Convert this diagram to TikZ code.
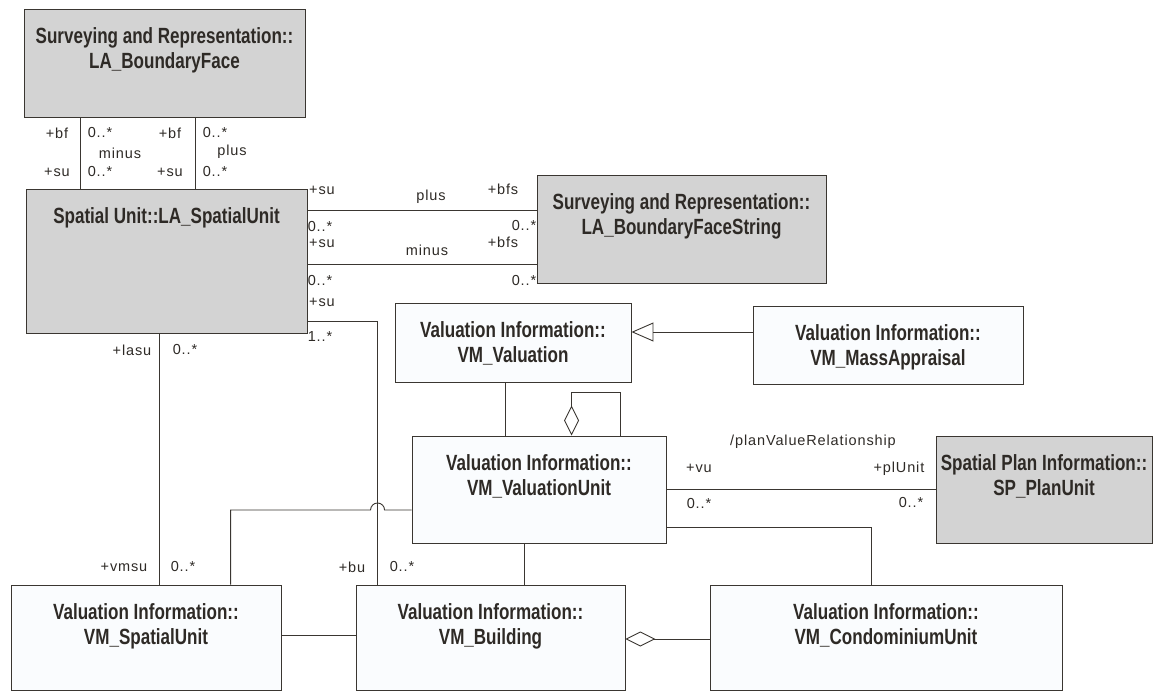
\documentclass[tikz,border=0pt]{standalone}
\usepackage{fontspec}
\setmainfont{Liberation Sans}
\newfontfamily\ttlfont[FakeStretch=0.775]{Liberation Sans}
\newfontfamily\lblfont[LetterSpace=6]{Liberation Sans}
\usetikzlibrary{arrows.meta}
\definecolor{linec}{HTML}{3A3631}
\definecolor{txtc}{HTML}{2E2A26}
\definecolor{grayc}{HTML}{D3D3D3}
\definecolor{boxc}{HTML}{FAFCFE}
\tikzset{
 cls/.style={draw=linec, fill=boxc, line width=0.9pt, inner sep=0pt},
 gcls/.style={cls, fill=grayc},
 ttl/.style={font=\ttlfont\bfseries\fontsize{22}{25}\selectfont, text=txtc, align=center, anchor=north, inner sep=0pt, yshift=-19pt},
 lbl/.style={font=\lblfont\fontsize{14.5}{17}\selectfont, text=txtc, inner sep=0pt},
 con/.style={draw=linec, line width=0.9pt},
 gen/.style={con, -{Triangle[open, length=22pt, width=19pt]}},
 agg/.style={con, -{Diamond[open, length=30pt, width=15pt]}},
}

\begin{document}
\begin{tikzpicture}[x=1pt,y=-1pt]
\useasboundingbox (0,0) rectangle (1157,693);
% classes
\node[gcls, minimum width=281pt, minimum height=108pt] (bf) at (164.5,63) {};
\node[ttl] (bft) at (bf.north) {Surveying and Representation::\\LA\_BoundaryFace};
\node[gcls, minimum width=281pt, minimum height=144pt] (su) at (166.5,261) {};
\node[ttl] (sut) at (su.north) {Spatial Unit::LA\_SpatialUnit};
\node[gcls, minimum width=289pt, minimum height=108pt] (bfs) at (681.5,229) {};
\node[ttl] (bfst) at (bfs.north) {Surveying and Representation::\\LA\_BoundaryFaceString};
\node[cls, minimum width=236pt, minimum height=79pt] (val) at (513,342.5) {};
\node[ttl] (valt) at (val.north) {Valuation Information::\\VM\_Valuation};
\node[cls, minimum width=270pt, minimum height=78pt] (mass) at (888,345) {};
\node[ttl] (masst) at (mass.north) {Valuation Information::\\VM\_MassAppraisal};
\node[cls, minimum width=254pt, minimum height=107pt] (vu) at (539,489.5) {};
\node[ttl] (vut) at (vu.north) {Valuation Information::\\VM\_ValuationUnit};
\node[gcls, minimum width=216pt, minimum height=107pt] (plan) at (1044,489.5) {};
\node[ttl] (plant) at (plan.north) {Spatial Plan Information::\\SP\_PlanUnit};
\node[cls, minimum width=270pt, minimum height=105pt] (vmsu) at (146,637.5) {};
\node[ttl] (vmsut) at (vmsu.north) {Valuation Information::\\VM\_SpatialUnit};
\node[cls, minimum width=269pt, minimum height=105pt] (bldg) at (490.5,637.5) {};
\node[ttl] (bldgt) at (bldg.north) {Valuation Information::\\VM\_Building};
\node[cls, minimum width=352pt, minimum height=105pt] (condo) at (886,637.5) {};
\node[ttl] (condot) at (condo.north) {Valuation Information::\\VM\_CondominiumUnit};

% associations
\foreach \s in {57,172}
  \draw[con] ([xshift=\s pt]bf.south west) -- ([xshift=\s pt]bf.south west |- su.north);
\foreach \s in {19,-35}
  \draw[con] ([yshift=\s pt]bfs.west) -- ([yshift=\s pt]bfs.west -| su.east);
\draw[con] ([yshift=-60pt]su.east) -| ([xshift=22pt]bldg.north west);
\draw[con] ([xshift=134pt]su.south west) -- ([xshift=134pt]su.south west |- vmsu.north);
\draw[con] ([yshift=-20.5pt]vu.west) -- ++(-27pt,0) arc[start angle=0, end angle=180, radius=7pt]
  -| ([xshift=220pt]vmsu.north west);
\draw[con] ([xshift=-15pt]vu.south) -- ([xshift=-15pt]vu.south |- bldg.north);
\draw[con] ([yshift=-37.5pt]vu.east) -| ([xshift=162pt]condo.north west);
\draw[con] ([xshift=-8pt]val.south) -- ([xshift=-8pt]val.south |- vu.north);
\draw[con] (vu.east |- plan.west) -- (plan.west);
\draw[con] ([yshift=2.5pt]vmsu.east) -- ([yshift=2.5pt]vmsu.east -| bldg.west);
\draw[agg] ([xshift=209pt]vu.north west) -- ++(0,43pt) -| ([xshift=160pt]vu.north west);
\draw[agg] ([yshift=-1.5pt]condo.west) -- ([yshift=-1.5pt]condo.west -| bldg.east);
\draw[gen] ([yshift=13pt]mass.west) -- ([yshift=13pt]mass.west -| val.east);

% role names and multiplicities
\foreach \x/\y/\t [count=\i] in {57/133/+bf, 100/133/0..*, 170/133/+bf, 215/133/0..*,
  120/153/minus, 232/152/plus, 57/172/+su, 100/172/0..*, 170/172/+su, 215/172/0..*,
  322/190/+su, 431/197/plus, 503/189/+bfs, 320/227/0..*, 524/226/0..*,
  322/243/+su, 427/250/minus, 503/242/+bfs, 320/281/0..*, 524/281/0..*,
  322/302/+su, 320/337/1..*, 132/350/+lasu, 185/350/0..*, 124/567/+vmsu, 183/567/0..*,
  352/567/+bu, 402/567/0..*, 699/468/+vu, 899/469/+plUnit, 699/504/0..*, 911/503/0..*}
  \node[lbl] (lab\i) at (\x,\y) {\t};
\node[lbl] (pvr) at (813,442) {/planValueRelationship};
\end{tikzpicture}
\end{document}
